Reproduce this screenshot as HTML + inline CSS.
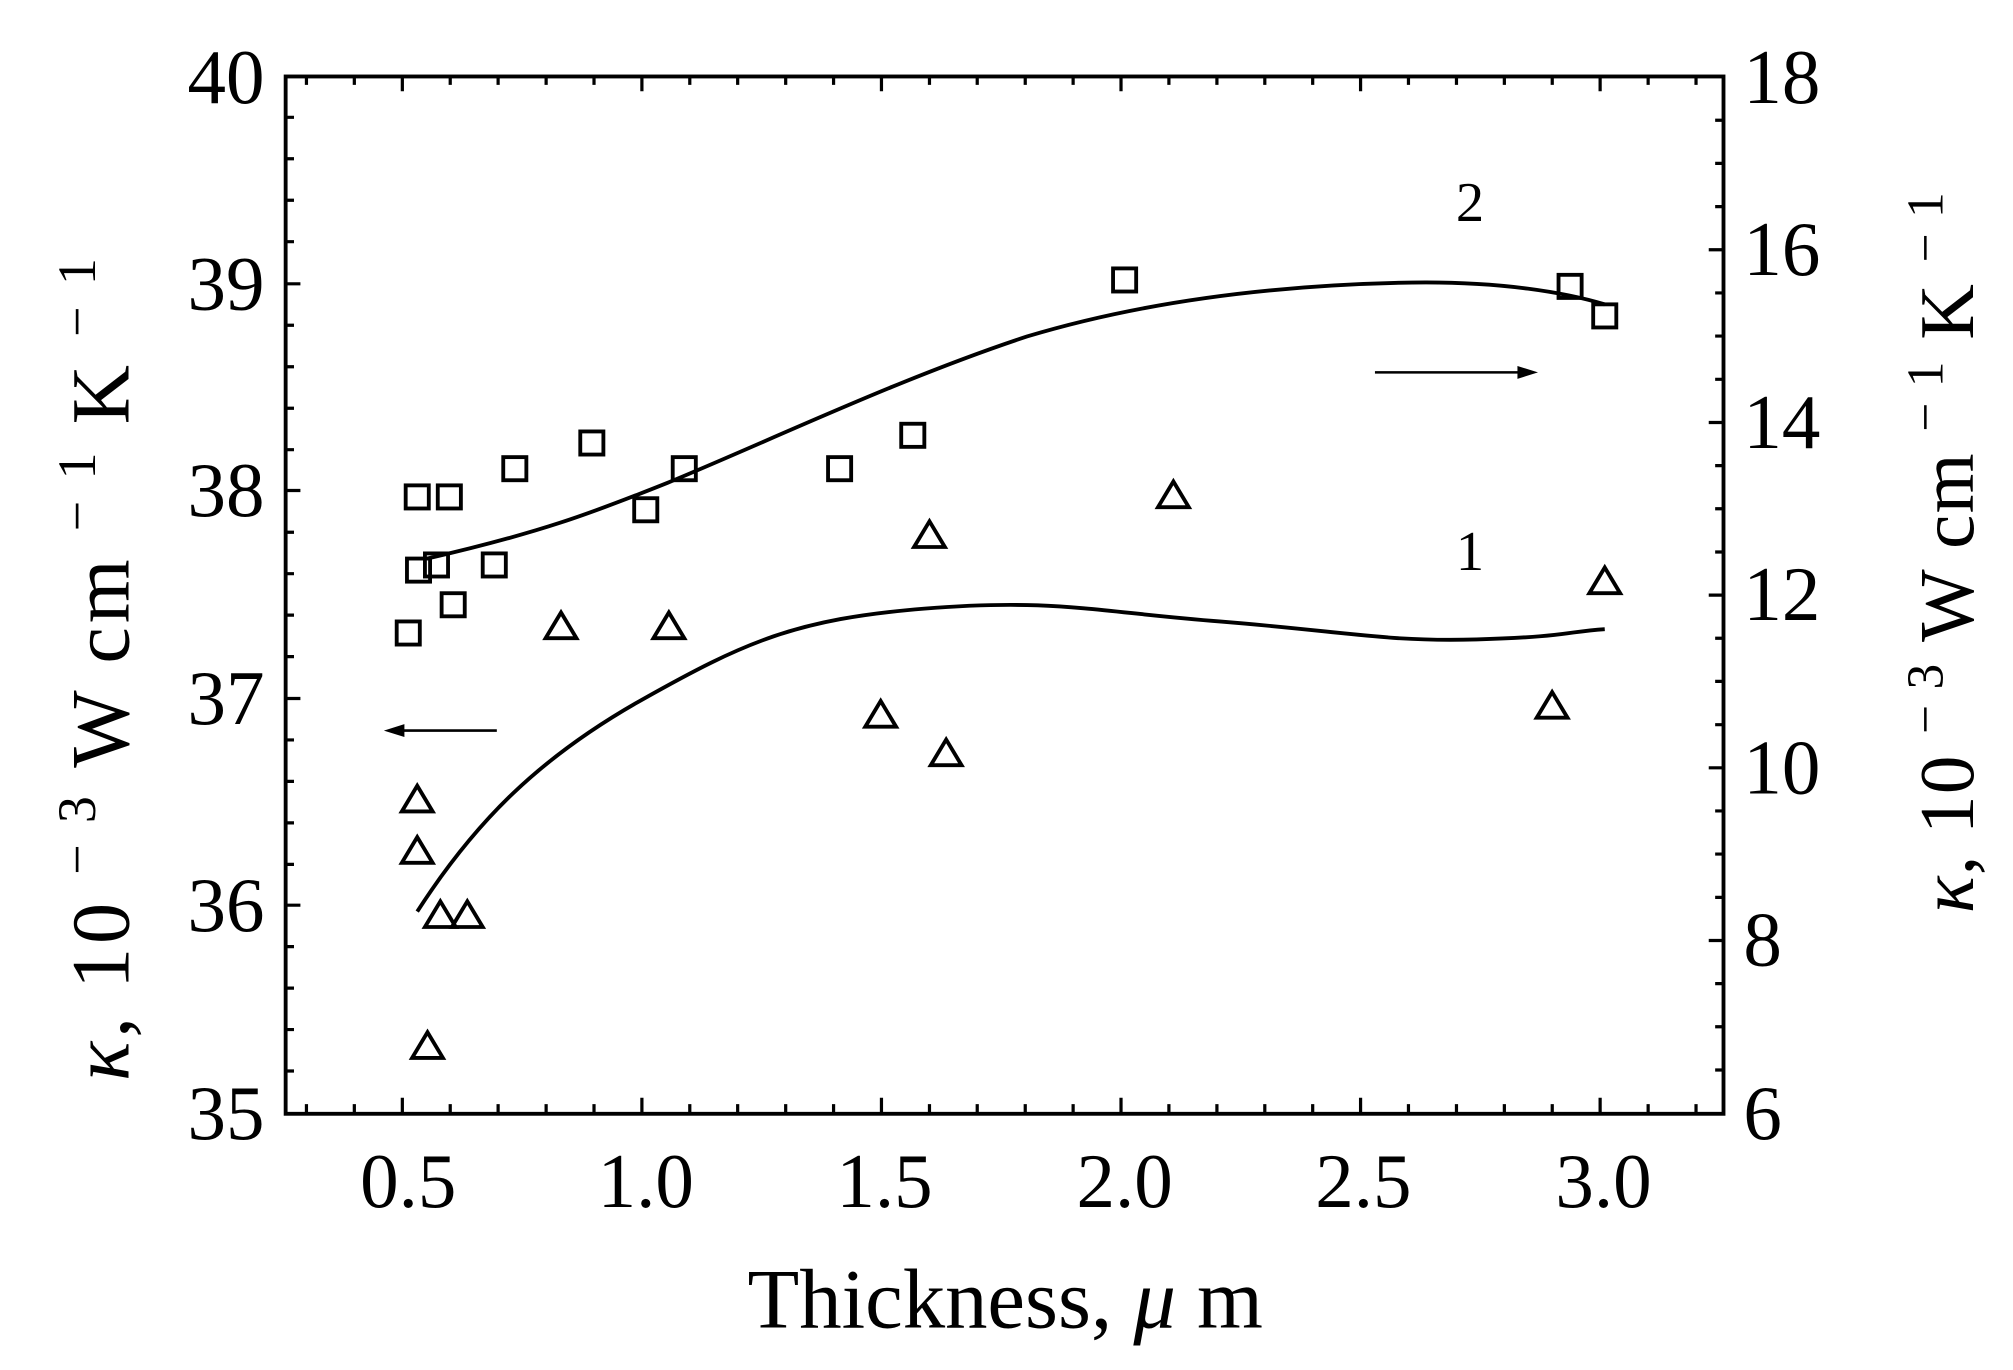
<!DOCTYPE html>
<html><head><style>html,body{margin:0;padding:0;background:#fff;}svg{display:block}</style></head>
<body>
<svg width="2013" height="1370" viewBox="0 0 1568 1067" xmlns="http://www.w3.org/2000/svg" font-family="'Liberation Serif', serif" fill="none" stroke="#000">
<rect x="222.5" y="59.5" width="1120" height="808" stroke-width="3"/>
<g stroke-width="2.5">
<path d="M238.7 867v-7M276 867v-7M313.4 867v-12M350.7 867v-7M388 867v-7M425.4 867v-7M462.7 867v-7M500 867v-12M537.3 867v-7M574.6 867v-7M612 867v-7M649.3 867v-7M686.6 867v-12M724 867v-7M761.2 867v-7M798.6 867v-7M835.9 867v-7M873.2 867v-12M910.5 867v-7M947.9 867v-7M985.2 867v-7M1022.5 867v-7M1059.8 867v-12M1097.1 867v-7M1134.5 867v-7M1171.8 867v-7M1209.1 867v-7M1246.4 867v-12M1283.8 867v-7M1321.1 867v-7"/>
<path d="M238.7 59v7M276 59v7M313.4 59v12M350.7 59v7M388 59v7M425.4 59v7M462.7 59v7M500 59v12M537.3 59v7M574.6 59v7M612 59v7M649.3 59v7M686.6 59v12M724 59v7M761.2 59v7M798.6 59v7M835.9 59v7M873.2 59v12M910.5 59v7M947.9 59v7M985.2 59v7M1022.5 59v7M1059.8 59v12M1097.1 59v7M1134.5 59v7M1171.8 59v7M1209.1 59v7M1246.4 59v12M1283.8 59v7M1321.1 59v7"/>
<path d="M222 221h12M222 382h12M222 544h12M222 705h12
M222 91.3h7M222 123.6h7M222 155.9h7M222 188.2h7
M222 253.3h7M222 285.6h7M222 317.9h7M222 350.2h7
M222 414.5h7M222 446.8h7M222 479.1h7M222 511.4h7
M222 576.3h7M222 608.6h7M222 640.9h7M222 673.2h7
M222 737.3h7M222 769.6h7M222 801.9h7M222 834.2h7"/>
<path d="M1343 194.5h-12M1343 329h-12M1343 463.5h-12M1343 598h-12M1343 732.5h-12
M1343 93.6h-7M1343 127.2h-7M1343 160.9h-7M1343 228.1h-7M1343 261.7h-7M1343 295.4h-7M1343 362.6h-7M1343 396.2h-7M1343 429.9h-7M1343 497.1h-7M1343 530.7h-7M1343 564.4h-7M1343 631.6h-7M1343 665.2h-7M1343 698.9h-7M1343 766.1h-7M1343 799.7h-7M1343 833.4h-7"/>
</g>
<g fill="#000" stroke="none" font-size="60">
<text x="206" y="80" text-anchor="end">40</text>
<text x="206" y="241" text-anchor="end">39</text>
<text x="206" y="402" text-anchor="end">38</text>
<text x="206" y="564" text-anchor="end">37</text>
<text x="206" y="725" text-anchor="end">36</text>
<text x="206" y="887" text-anchor="end">35</text>
<text x="1358" y="80">18</text>
<text x="1358" y="214">16</text>
<text x="1358" y="349">14</text>
<text x="1358" y="483">12</text>
<text x="1358" y="618">10</text>
<text x="1358" y="752">8</text>
<text x="1358" y="887">6</text>
<text x="318" y="940" text-anchor="middle">0.5</text>
<text x="503" y="940" text-anchor="middle">1.0</text>
<text x="689" y="940" text-anchor="middle">1.5</text>
<text x="876" y="940" text-anchor="middle">2.0</text>
<text x="1062" y="940" text-anchor="middle">2.5</text>
<text x="1249" y="940" text-anchor="middle">3.0</text>
<text x="783" y="1034" text-anchor="middle" font-size="66">Thickness, <tspan font-style="italic">μ</tspan> m</text>
<text x="1145" y="172" text-anchor="middle" font-size="44">2</text>
<text x="1145" y="444" text-anchor="middle" font-size="44">1</text>
<text transform="translate(100,520) rotate(-90)" text-anchor="middle" font-size="64" letter-spacing="3"><tspan font-style="italic">κ</tspan>,  10 <tspan font-size="42" dy="-26">− 3</tspan><tspan dy="26"> W cm </tspan><tspan font-size="42" dy="-26">− 1</tspan><tspan dy="26"> K </tspan><tspan font-size="42" dy="-26">− 1</tspan></text>
<text transform="translate(1537,430) rotate(-90)" text-anchor="middle" font-size="60" letter-spacing="1"><tspan font-style="italic">κ</tspan>,  10 <tspan font-size="40" dy="-24">− 3</tspan><tspan dy="24"> W cm </tspan><tspan font-size="40" dy="-24">− 1</tspan><tspan dy="24"> K </tspan><tspan font-size="40" dy="-24">− 1</tspan></text>
</g>
<path stroke-width="3" d="M333 435 C420 415, 460 400, 520 376 C600 343, 700 295, 800 262 C880 238, 980 222, 1100 220 C1170 219, 1220 228, 1250 237"/>
<path stroke-width="3" d="M325 710 C 370 640, 420 590, 500 545 S 620 482, 720 474 S 850 476, 950 484 S 1080 500, 1150 498 S 1220 492, 1250 490"/>
<path stroke-width="2" d="M387 569H308"/><path fill="#000" stroke="none" d="M299 569l16-5v10z"/>
<path stroke-width="2" d="M1071 290H1188"/><path fill="#000" stroke="none" d="M1198 290l-16-5v10z"/>
<g stroke-width="3">
<rect x="309" y="484" width="18" height="18"/>
<rect x="316" y="378" width="18" height="18"/>
<rect x="341" y="378" width="18" height="18"/>
<rect x="317" y="435" width="18" height="18"/>
<rect x="331" y="431" width="18" height="18"/>
<rect x="344" y="462" width="18" height="18"/>
<rect x="376" y="431" width="18" height="18"/>
<rect x="392" y="356" width="18" height="18"/>
<rect x="452" y="336" width="18" height="18"/>
<rect x="494" y="388" width="18" height="18"/>
<rect x="524" y="356" width="18" height="18"/>
<rect x="645" y="356" width="18" height="18"/>
<rect x="702" y="330" width="18" height="18"/>
<rect x="867" y="209" width="18" height="18"/>
<rect x="1214" y="214" width="18" height="18"/>
<rect x="1241" y="237" width="18" height="18"/>
</g>
<g stroke-width="3">
<path d="M325 612l-12 20h24z"/>
<path d="M325 652l-12 20h24z"/>
<path d="M343 702l-12 20h24z"/>
<path d="M364 702l-12 20h24z"/>
<path d="M333 804l-12 20h24z"/>
<path d="M437 477l-12 20h24z"/>
<path d="M521 477l-12 20h24z"/>
<path d="M686 546l-12 20h24z"/>
<path d="M737 576l-12 20h24z"/>
<path d="M724 406l-12 20h24z"/>
<path d="M914 375l-12 20h24z"/>
<path d="M1209 539l-12 20h24z"/>
<path d="M1250 442l-12 20h24z"/>
</g>
</svg>
</body></html>
